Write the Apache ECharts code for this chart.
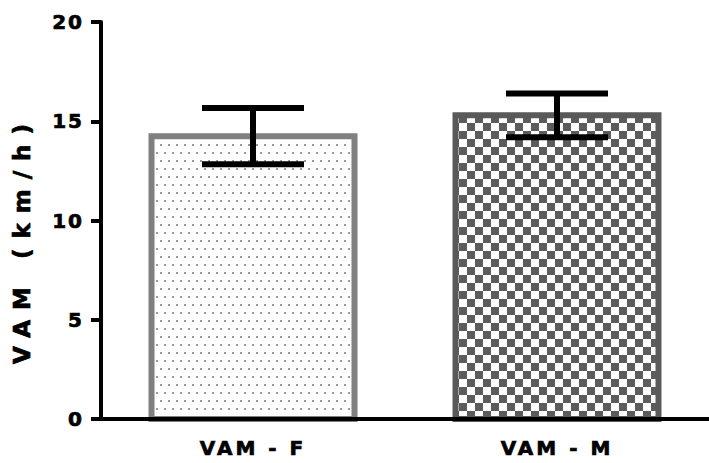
<!DOCTYPE html>
<html><head><meta charset="utf-8">
<script src="https://cdn.jsdelivr.net/npm/echarts@6/dist/echarts.min.js"></script>
<style>html,body{margin:0;padding:0;background:#fff}#c{width:709px;height:463px}</style>
</head><body><div id="c"></div>
<script>
const categories = ['VAM - F', 'VAM - M'];
const means = [14.25, 15.3];
const sds = [1.42, 1.1];
const yAxisTitle = 'VAM (km/h)';
const yMin = 0, yMax = 20, yStep = 5;

function dotPattern() {
  const c = document.createElement('canvas'); c.width = 8; c.height = 16;
  const g = c.getContext('2d');
  g.fillStyle = '#fff'; g.fillRect(0, 0, 8, 16);
  g.fillStyle = '#9a9a9a';
  g.fillRect(0, 0, 2, 2); g.fillRect(4, 8, 2, 2);
  return c;
}
function checkerPattern() {
  const c = document.createElement('canvas'); c.width = 16; c.height = 16;
  const g = c.getContext('2d');
  for (let y = 0; y < 16; y++) for (let x = 0; x < 16; x++) {
    const dark = (Math.floor((x - 11 + 32) / 8) + Math.floor((y - 3 + 32) / 8)) % 2 === 0;
    g.fillStyle = dark ? '#5c5c5c' : '#ffffff';
    g.fillRect(x, y, 1, 1);
  }
  return c;
}
const dp = dotPattern(), cp = checkerPattern();
const fills = [
  { image: dp.toDataURL(), repeat: 'repeat', imageWidth: 8, imageHeight: 16 },
  { image: cp.toDataURL(), repeat: 'repeat', imageWidth: 16, imageHeight: 16 }
];
const borders = ['#808080', '#5a5a5a'];

const chart = echarts.init(document.getElementById('c'), null, { renderer: 'svg' });
const font = 'DejaVu Sans';
const lbl = { color: '#000', fontFamily: font, fontWeight: 'bold', fontSize: 20, textBorderColor: '#000', textBorderWidth: 0.7 };
chart.setOption({
  animation: false,
  backgroundColor: '#fff',
  grid: { left: 101, right: 0, top: 22, bottom: 44 },
  xAxis: {
    type: 'category', data: categories, z: 5,
    axisLine: { lineStyle: { color: '#000', width: 4 } },
    axisTick: { alignWithLabel: true, length: 9, lineStyle: { color: '#000', width: 4 } },
    axisLabel: Object.assign({}, lbl, { margin: 19 })
  },
  yAxis: {
    type: 'value', min: yMin, max: yMax, interval: yStep, z: 5,
    splitLine: { show: false },
    axisLine: { show: true, lineStyle: { color: '#000', width: 4 } },
    axisTick: { show: true, length: 10, lineStyle: { color: '#000', width: 4 } },
    axisLabel: Object.assign({}, lbl, { margin: 17 })
  },
  graphic: [{
    type: 'text', x: 22, y: 239, rotation: Math.PI / 2,
    style: { text: yAxisTitle, fill: '#000', stroke: '#000', lineWidth: 0.7, font: 'bold 23px "DejaVu Sans"', textAlign: 'center', textVerticalAlign: 'middle' }
  }],
  series: [{
    type: 'custom', z: 2,
    data: means.map((m, i) => [i, m]),
    encode: { x: 0, y: 1 },
    renderItem(params, api) {
      const i = api.value(0);
      const top = api.coord([i, api.value(1)]);
      const base = api.coord([i, 0]);
      const w = 203;
      return { type: 'rect',
        shape: { x: top[0] - w / 2, y: top[1], width: w, height: base[1] - top[1] },
        style: { fill: fills[i], stroke: borders[i], lineWidth: 6 } };
    }
  }, {
    type: 'custom', z: 10,
    data: means.map((m, i) => [i, m - sds[i], m + sds[i]]),
    encode: { x: 0, y: [1, 2] },
    renderItem(params, api) {
      const x = api.value(0);
      const lo = api.coord([x, api.value(1)]);
      const hi = api.coord([x, api.value(2)]);
      const hw = 51;
      const st = { stroke: '#000', lineWidth: 6, fill: null };
      return { type: 'group', children: [
        { type: 'line', shape: { x1: lo[0], y1: lo[1], x2: hi[0], y2: hi[1] }, style: st },
        { type: 'line', shape: { x1: lo[0] - hw, y1: lo[1], x2: lo[0] + hw, y2: lo[1] }, style: st },
        { type: 'line', shape: { x1: hi[0] - hw, y1: hi[1], x2: hi[0] + hw, y2: hi[1] }, style: st }
      ]};
    }
  }]
});
function applySpacing() {
  document.querySelectorAll('#c svg text').forEach(t => {
    const s = t.textContent;
    let ls = 3;
    if (s === yAxisTitle) ls = 10;
    else if (/^\d+$/.test(s)) ls = 2;
    t.setAttribute('letter-spacing', ls);
  });
}
applySpacing();
chart.on('finished', applySpacing);
setTimeout(applySpacing, 50);
</script></body></html>
